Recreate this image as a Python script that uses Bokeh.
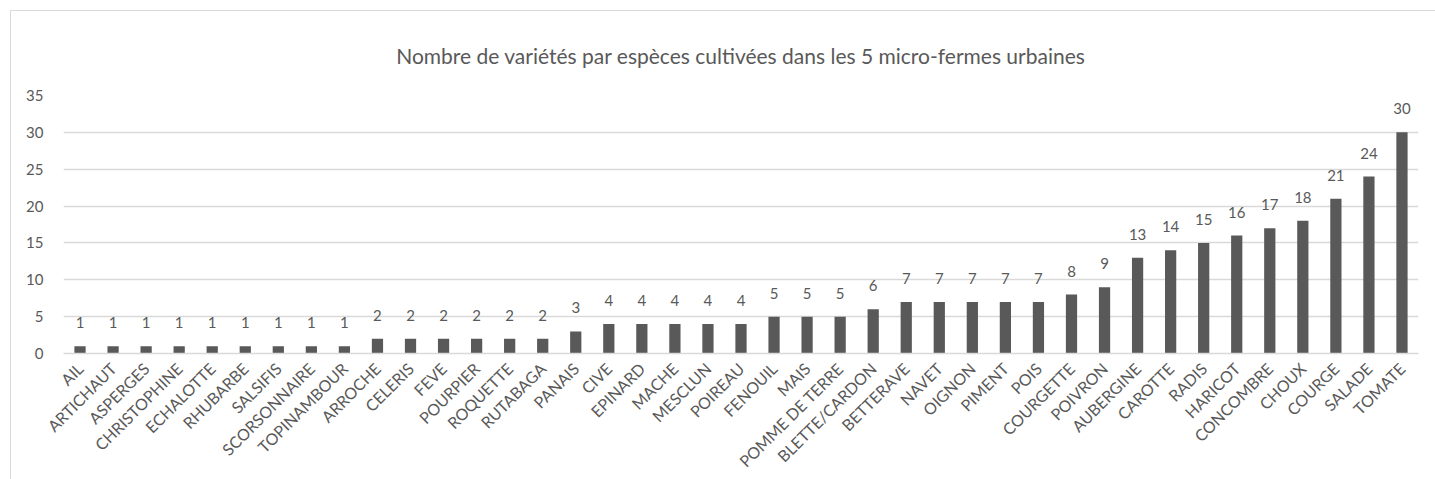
import math
from bokeh.plotting import figure
from bokeh.models import ColumnDataSource, Range1d, FixedTicker, LabelSet
from bokeh.core.properties import value
from bokeh.embed import file_html
from bokeh.resources import INLINE

species = ["AIL", "ARTICHAUT", "ASPERGES", "CHRISTOPHINE", "ECHALOTTE", "RHUBARBE",
           "SALSIFIS", "SCORSONNAIRE", "TOPINAMBOUR", "ARROCHE", "CELERIS", "FEVE",
           "POURPIER", "ROQUETTE", "RUTABAGA", "PANAIS", "CIVE", "EPINARD", "MACHE",
           "MESCLUN", "POIREAU", "FENOUIL", "MAIS", "POMME DE TERRE", "BLETTE/CARDON",
           "BETTERAVE", "NAVET", "OIGNON", "PIMENT", "POIS", "COURGETTE", "POIVRON",
           "AUBERGINE", "CAROTTE", "RADIS", "HARICOT", "CONCOMBRE", "CHOUX", "COURGE",
           "SALADE", "TOMATE"]
varieties = [1, 1, 1, 1, 1, 1, 1, 1, 1, 2, 2, 2, 2, 2, 2, 3, 4, 4, 4, 4, 4, 5, 5, 5, 6,
             7, 7, 7, 7, 7, 8, 9, 13, 14, 15, 16, 17, 18, 21, 24, 30]
y_ticks = [0, 5, 10, 15, 20, 25, 30, 35]
title_text = "Nombre de variétés par espèces cultivées dans les 5 micro-fermes urbaines"

FONT = "Lato"
GREY = "#595959"

src = ColumnDataSource(dict(x=species, top=varieties, lbl=[str(v) for v in varieties]))

p = figure(x_range=species, y_range=Range1d(0, 35), width=1425, height=469,
           output_backend="svg", toolbar_location=None,
           min_border_left=52, min_border_right=18, min_border_top=84, min_border_bottom=126)
p.styles = {"border-left": "1px solid #d9d9d9", "border-top": "1px solid #d9d9d9",
            "margin": "10px 0 0 10px"}

# trailing blank line lifts the title higher above the plot frame
p.title.text = title_text + "\n "
p.title.align = "center"
p.title.vertical_align = "bottom"
p.title.text_font = FONT
p.title.text_font_size = "21px"
p.title.text_font_style = "normal"
p.title.text_color = GREY
p.title.standoff = 6

p.vbar(x="x", top="top", width=0.34, source=src, fill_color=GREY, line_color=None)

labels = LabelSet(x="x", y="top", text="lbl", source=src, text_align="center",
                  text_baseline="bottom", y_offset=18, text_font=value(FONT),
                  text_font_size="15px", text_color=GREY)
p.add_layout(labels)

p.outline_line_color = None
p.xgrid.grid_line_color = None
p.ygrid.grid_line_color = "#d9d9d9"
p.ygrid.grid_line_width = 1.5
p.yaxis.ticker = FixedTicker(ticks=y_ticks)
p.yaxis.axis_line_color = None
p.yaxis.major_tick_line_color = None
p.yaxis.minor_tick_line_color = None
p.yaxis.major_label_text_font = FONT
p.yaxis.major_label_text_font_size = "15px"
p.yaxis.major_label_text_color = GREY
p.yaxis.major_label_standoff = 14

p.xaxis.axis_line_color = "#d9d9d9"
p.xaxis.axis_line_width = 1.5
p.xaxis.major_tick_line_color = None
p.xaxis.major_label_orientation = math.pi / 4
p.xaxis.major_label_text_font = FONT
p.xaxis.major_label_text_font_size = "16px"
p.xaxis.major_label_text_color = GREY
p.xaxis.major_label_standoff = 6

open("out.html", "w").write(file_html(p, INLINE))
